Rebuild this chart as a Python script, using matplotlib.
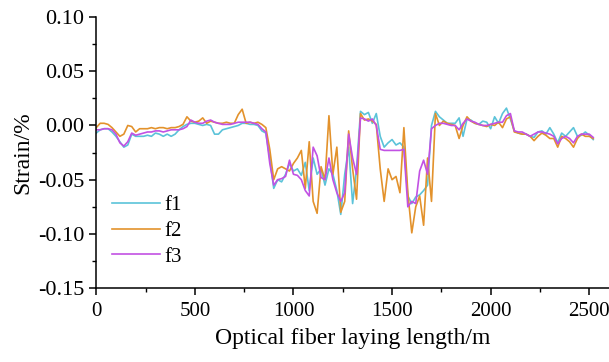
import numpy as np
import matplotlib
matplotlib.use("Agg")
import matplotlib.pyplot as plt
from matplotlib.ticker import MultipleLocator

# distance along the fibre (m), one reading every 20 m
length_m = np.arange(0, 2540, 20)

f1 = [
    -0.007, -0.004, -0.003, -0.003, -0.006, -0.010, -0.015, -0.020, -0.018, -0.008,
    -0.010, -0.010, -0.010, -0.009, -0.010, -0.007, -0.008, -0.010, -0.008, -0.010,
    -0.008, -0.004, -0.001, 0.001, 0.002, 0.002, 0.001, 0.000, 0.001, 0.000,
    -0.008, -0.008, -0.004, -0.003, -0.002, -0.001, 0.000, 0.002, 0.002, 0.001,
    0.001, 0.000, -0.005, -0.007, -0.030, -0.058, -0.050, -0.052, -0.045, -0.035,
    -0.042, -0.040, -0.046, -0.034, -0.060, -0.030, -0.045, -0.040, -0.055, -0.040,
    -0.045, -0.060, -0.082, -0.045, -0.020, -0.072, -0.040, 0.013, 0.010, 0.012,
    0.002, 0.011, -0.010, -0.020, -0.016, -0.013, -0.018, -0.016, -0.020, -0.065,
    -0.072, -0.066, -0.064, -0.060, -0.055, 0.000, 0.013, 0.008, 0.005, 0.002,
    0.002, 0.002, 0.007, -0.010, 0.006, 0.005, 0.002, 0.001, 0.004, 0.003,
    -0.003, 0.008, 0.002, 0.011, 0.016, 0.006, -0.005, -0.007, -0.008, -0.008,
    -0.010, -0.011, -0.006, -0.005, -0.008, -0.002, -0.008, -0.016, -0.007, -0.010,
    -0.006, -0.002, -0.010, -0.009, -0.006, -0.009, -0.013,
]

f2 = [
    -0.002, 0.002, 0.002, 0.001, -0.002, -0.006, -0.010, -0.008, 0.000, -0.001,
    -0.006, -0.003, -0.003, -0.003, -0.002, -0.003, -0.002, -0.002, -0.003, -0.002,
    -0.002, -0.001, 0.001, 0.008, 0.004, 0.003, 0.004, 0.007, 0.002, 0.004,
    0.003, 0.002, 0.002, 0.003, 0.002, 0.002, 0.010, 0.015, 0.002, 0.003,
    0.002, 0.003, 0.001, -0.002, -0.022, -0.050, -0.040, -0.038, -0.040, -0.042,
    -0.035, -0.030, -0.023, -0.058, -0.015, -0.070, -0.081, -0.038, -0.050, 0.009,
    -0.045, -0.020, -0.080, -0.070, -0.005, -0.040, -0.068, 0.011, 0.005, 0.006,
    0.004, 0.001, -0.040, -0.070, -0.040, -0.050, -0.047, -0.062, -0.002, -0.062,
    -0.099, -0.075, -0.065, -0.092, -0.030, -0.070, 0.011, 0.000, 0.004, 0.002,
    0.001, 0.000, -0.012, 0.000, 0.008, 0.004, 0.002, 0.001, 0.000, -0.001,
    0.001, 0.000, 0.003, -0.002, 0.006, 0.008, -0.006, -0.007, -0.008, -0.008,
    -0.010, -0.014, -0.010, -0.007, -0.009, -0.012, -0.012, -0.020, -0.010, -0.012,
    -0.015, -0.020, -0.012, -0.008, -0.010, -0.010, -0.012,
]

f3 = [
    -0.004, -0.004, -0.003, -0.003, -0.004, -0.008, -0.016, -0.019, -0.015, -0.007,
    -0.009, -0.008, -0.007, -0.006, -0.006, -0.005, -0.005, -0.006, -0.005, -0.004,
    -0.004, -0.004, -0.003, -0.001, 0.005, 0.003, 0.002, 0.002, 0.004, 0.005,
    0.003, 0.002, 0.001, 0.001, 0.001, 0.002, 0.003, 0.003, 0.003, 0.003,
    0.002, 0.001, -0.003, -0.006, -0.035, -0.055, -0.050, -0.049, -0.047, -0.032,
    -0.045, -0.046, -0.050, -0.060, -0.065, -0.020, -0.028, -0.048, -0.050, -0.030,
    -0.050, -0.062, -0.070, -0.062, -0.008, -0.030, -0.045, 0.007, 0.006, 0.004,
    0.006, 0.000, -0.022, -0.023, -0.023, -0.023, -0.023, -0.023, -0.022, -0.075,
    -0.070, -0.072, -0.042, -0.032, -0.045, -0.003, 0.000, 0.002, 0.002, 0.001,
    0.000, 0.000, -0.004, 0.002, 0.006, 0.004, 0.003, 0.001, 0.000, 0.000,
    0.001, 0.002, 0.003, 0.003, 0.009, 0.011, -0.005, -0.006, -0.006, -0.008,
    -0.010, -0.008, -0.006, -0.006, -0.007, -0.008, -0.010, -0.017, -0.012, -0.010,
    -0.012, -0.016, -0.010, -0.008, -0.008, -0.008, -0.011,
]

plt.rcParams['font.family'] = ['Liberation Serif', 'DejaVu Serif']

fig = plt.figure(figsize=(6.09, 3.62), dpi=100)
ax = fig.add_axes([0.158, 0.204, 0.842, 0.749])

ax.plot(length_m, f1, color='#5bc3d9', lw=1.2, label='f1')
ax.plot(length_m, f2, color='#e3922c', lw=1.2, label='f2')
ax.plot(length_m, f3, color='#c251e3', lw=1.2, label='f3')

ax.set_xlim(0, 2600)
ax.set_ylim(-0.15, 0.10)
ax.xaxis.set_major_locator(MultipleLocator(500))
ax.xaxis.set_minor_locator(MultipleLocator(250))
ax.yaxis.set_minor_locator(MultipleLocator(0.025))
ax.set_yticks([-0.15, -0.10, -0.05, 0.00, 0.05, 0.10])
ax.set_yticklabels(['-0.15', '-0.10', '-0.05', '0.00', '0.05', '0.10'])

ax.spines['top'].set_visible(False)
ax.spines['right'].set_visible(False)
for s in ['left', 'bottom']:
    ax.spines[s].set_linewidth(1.1)
ax.tick_params(which='major', direction='out', length=5, width=1.1, labelsize=16)
ax.tick_params(axis='x', which='major', pad=5, labelsize=15)
ax.tick_params(which='minor', direction='out', length=3, width=1.0)

ax.set_xlabel('Optical fiber laying length/m', fontsize=17, labelpad=5)
ax.set_ylabel('Strain/%', fontsize=17, labelpad=3)

ax.legend(loc='lower left', bbox_to_anchor=(-0.005, 0.01), frameon=False,
          fontsize=15, handlelength=2.3, handletextpad=0.2, labelspacing=0.3)

fig.savefig('out.png', dpi=100)
